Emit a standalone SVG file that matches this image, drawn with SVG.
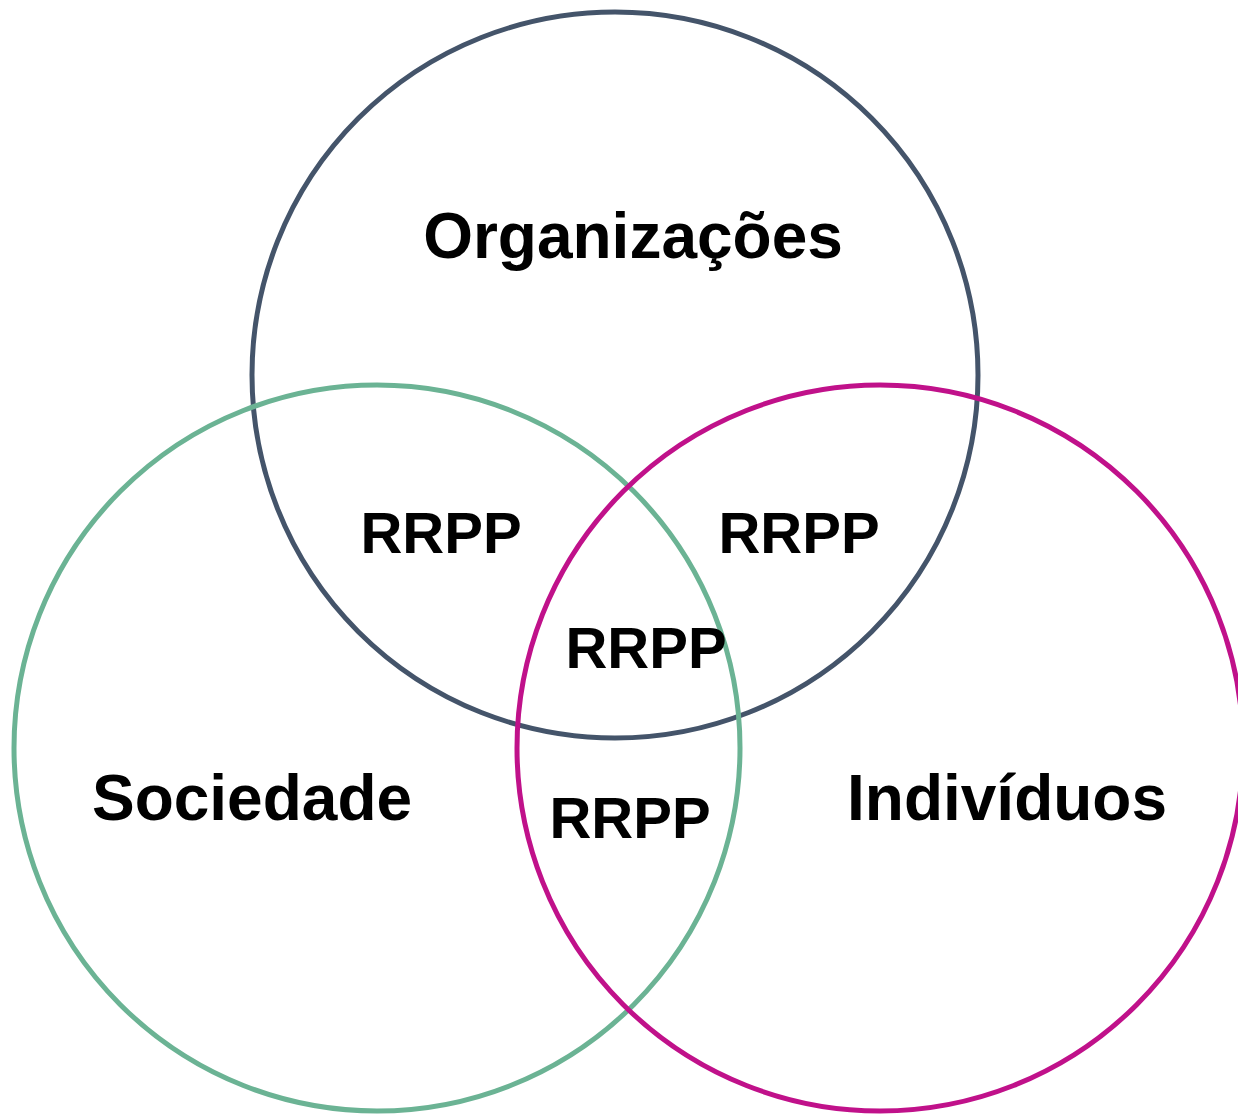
<svg xmlns="http://www.w3.org/2000/svg" width="1238" height="1114" viewBox="0 0 1238 1114">
<style>
.c{fill:none;stroke-width:5}
.t{font-family:"Liberation Sans",Arial,sans-serif;font-weight:bold;fill:#000;text-anchor:middle}
.big{font-size:64px}
.small{font-size:58px}
</style>
<rect width="1238" height="1114" fill="#fff"/>
<g id="circles">
<g id="org"><circle class="c" cx="615" cy="375" r="363" stroke="#44546A"/></g>
<g id="soc"><circle class="c" cx="377" cy="748" r="363" stroke="#6BB394"/></g>
<g id="ind"><circle class="c" cx="880" cy="748" r="363" stroke="#C0118A"/></g>
</g>
<g id="labels">
<text class="t big" x="633" y="258">Organizações</text>
<text class="t big" x="252" y="820">Sociedade</text>
<text class="t big" x="1007" y="820">Indivíduos</text>
<text class="t small" x="441" y="553">RRPP</text>
<text class="t small" x="799" y="553">RRPP</text>
<text class="t small" x="646" y="668">RRPP</text>
<text class="t small" x="630" y="838">RRPP</text>
</g>
</svg>
